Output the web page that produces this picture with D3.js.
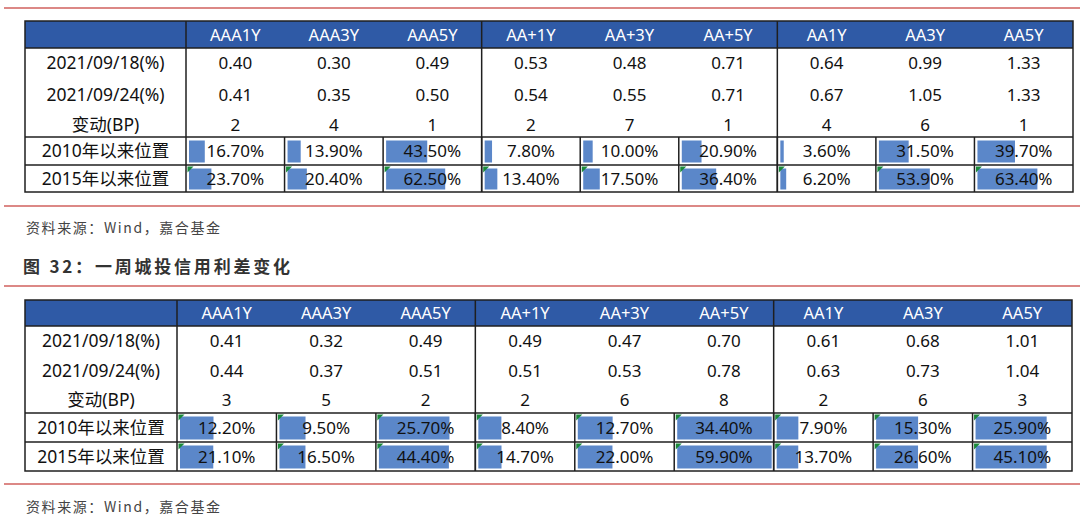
<!DOCTYPE html>
<html><head><meta charset="utf-8">
<script src="https://cdn.jsdelivr.net/npm/d3@7"></script>
<style>
html,body{margin:0;padding:0;background:#fff;}
svg{display:block;}
</style></head>
<body>
<svg id="chart" width="1080" height="519"></svg>
<script>
// ---------- DATA ----------
const columns = ["AAA1Y","AAA3Y","AAA5Y","AA+1Y","AA+3Y","AA+5Y","AA1Y","AA3Y","AA5Y"];
const rowLabels = ["2021/09/18(%)","2021/09/24(%)","变动(BP)","2010年以来位置","2015年以来位置"];

// Table 1 (上表)
const t1Spread0918 = [0.40,0.30,0.49,0.53,0.48,0.71,0.64,0.99,1.33];
const t1Spread0924 = [0.41,0.35,0.50,0.54,0.55,0.71,0.67,1.05,1.33];
const t1ChangeBP   = [2,4,1,2,7,1,4,6,1];
const t1Pos2010    = [16.70,13.90,43.50,7.80,10.00,20.90,3.60,31.50,39.70];
const t1Pos2015    = [23.70,20.40,62.50,13.40,17.50,36.40,6.20,53.90,63.40];

// Table 2 (图32：一周城投信用利差变化)
const t2Spread0918 = [0.41,0.32,0.49,0.49,0.47,0.70,0.61,0.68,1.01];
const t2Spread0924 = [0.44,0.37,0.51,0.51,0.53,0.78,0.63,0.73,1.04];
const t2ChangeBP   = [3,5,2,2,6,8,2,6,3];
const t2Pos2010    = [12.20,9.50,25.70,8.40,12.70,34.40,7.90,15.30,25.90];
const t2Pos2015    = [21.10,16.50,44.40,14.70,22.00,59.90,13.70,26.60,45.10];

const sourceText = "资料来源：Wind，嘉合基金";
const titleText = "图 32：一周城投信用利差变化";

// ---------- STYLE ----------
const FONT = "'Noto Sans','Noto Sans CJK SC',sans-serif";
const CJK = "'Noto Sans CJK SC','Noto Sans',sans-serif";
const HEADER_BLUE = "#2f5aa6";
const BAR_BLUE = "#5b87c9";
const LINE = "#1f1f1f";
const RED = "#d0605e";
const GREEN = "#1a8a3a";

const svg = d3.select("#chart");
const fmt2 = d3.format(".2f");
const fmtPct = v => d3.format(".2f")(v) + "%";

function drawTable(cfg) {
  const g = svg.append("g");
  const x = d3.scaleBand().domain(columns).range([cfg.labelRight, cfg.right]);
  const top = cfg.top, hb = cfg.headerBottom;
  const textRows = [cfg.spread0918, cfg.spread0924, cfg.change];
  const textFmt = [fmt2, fmt2, d3.format("d")];
  const rowCenters = cfg.textCenters;

  // header
  g.append("rect").attr("x", cfg.left).attr("y", top)
    .attr("width", cfg.right - cfg.left).attr("height", hb - top)
    .attr("fill", HEADER_BLUE);
  g.selectAll("text.hdr").data(columns).join("text")
    .attr("class","hdr")
    .attr("x", d => x(d) + x.bandwidth()/2)
    .attr("y", (top + hb)/2 + 6)
    .attr("text-anchor","middle").attr("fill","#fff")
    .attr("font-family", FONT).attr("font-size", 16.5)
    .text(d => d);

  // row labels
  const labelX = (cfg.left + cfg.labelRight)/2;
  const allCenters = rowCenters.concat(cfg.pctRows.map(r => (r[0]+r[1])/2));
  g.selectAll("text.lbl").data(rowLabels).join("text")
    .attr("class","lbl")
    .attr("x", labelX).attr("y", (d,i) => allCenters[i] + 6)
    .attr("text-anchor","middle").attr("fill","#111")
    .attr("font-family", FONT).attr("font-size", 17.5)
    .text(d => d);

  // text rows
  textRows.forEach((arr, ri) => {
    g.selectAll("text.v" + ri).data(arr).join("text")
      .attr("class","v" + ri)
      .attr("x", (d,i) => x(columns[i]) + x.bandwidth()/2)
      .attr("y", rowCenters[ri] + 6)
      .attr("text-anchor","middle").attr("fill","#111")
      .attr("font-family", FONT).attr("font-size", 17)
      .text(d => textFmt[ri](d));
  });

  // percentage rows with data bars
  const pctData = [cfg.pos2010, cfg.pos2015];
  pctData.forEach((arr, ri) => {
    const [y0, y1] = cfg.pctRows[ri];
    const dom = cfg.barDomain === "rowmax" ? [0, d3.max(arr)] : [0, 100];
    const w = d3.scaleLinear().domain(dom).range([0, x.bandwidth() - (cfg.barDomain === "rowmax" ? 5 : 4)]);
    g.selectAll("rect.b" + ri).data(arr).join("rect")
      .attr("class","b" + ri)
      .attr("x", (d,i) => x(columns[i]) + 3)
      .attr("y", y0 + 3.5).attr("height", y1 - y0 - 6)
      .attr("width", d => w(d))
      .attr("fill", BAR_BLUE);
    if (cfg.triangles[ri]) {
      g.selectAll("path.t" + ri).data(arr).join("path")
        .attr("class","t" + ri)
        .attr("d", (d,i) => {
          const cx = x(columns[i]) + 1.5, cy = y0 + 1.5;
          return `M${cx},${cy}L${cx+6},${cy}L${cx},${cy+6}Z`;
        })
        .attr("fill", GREEN);
    }
    g.selectAll("text.p" + ri).data(arr).join("text")
      .attr("class","p" + ri)
      .attr("x", (d,i) => x(columns[i]) + x.bandwidth()/2)
      .attr("y", (y0 + y1)/2 + 6)
      .attr("text-anchor","middle").attr("fill","#111")
      .attr("font-family", FONT).attr("font-size", 17)
      .text(d => fmtPct(d));
  });

  // lines
  const L = (x1,y1,x2,y2,w) => g.append("line").attr("x1",x1).attr("y1",y1).attr("x2",x2).attr("y2",y2)
      .attr("stroke", LINE).attr("stroke-width", w || 1.5);
  g.append("rect").attr("x", cfg.left).attr("y", top)
    .attr("width", cfg.right - cfg.left).attr("height", cfg.bottom - top)
    .attr("fill","none").attr("stroke", LINE).attr("stroke-width", 1.5);
  L(cfg.left, hb, cfg.right, hb);
  L(cfg.left, cfg.pctRows[0][0], cfg.right, cfg.pctRows[0][0]);
  L(cfg.left, cfg.pctRows[1][0], cfg.right, cfg.pctRows[1][0]);
  L(cfg.labelRight, top, cfg.labelRight, cfg.bottom);
  [3, 6].forEach(k => {
    const xx = x(columns[k]);
    L(xx, top, xx, cfg.bottom);
  });
  columns.forEach((c, i) => {
    if (i === 0) return;
    const xx = x(c);
    L(xx, cfg.pctRows[0][0], xx, cfg.bottom);
  });
}

function redLine(y) {
  svg.append("line").attr("x1", 4).attr("x2", 1080).attr("y1", y).attr("y2", y)
    .attr("stroke", RED).attr("stroke-width", 1.6);
}

// top section
redLine(8);
drawTable({
  left: 25, labelRight: 186, right: 1073,
  top: 21, headerBottom: 48, bottom: 192,
  textCenters: [63, 95, 125],
  pctRows: [[137,165],[165,192]],
  spread0918: t1Spread0918, spread0924: t1Spread0924, change: t1ChangeBP,
  pos2010: t1Pos2010, pos2015: t1Pos2015,
  barDomain: "fixed",
  triangles: [false, true]
});
redLine(206);
svg.append("text").attr("x", 26).attr("y", 233)
  .attr("font-family", CJK).attr("font-size", 14).attr("fill", "#444")
  .attr("textLength", 194).attr("lengthAdjust", "spacing")
  .text(sourceText);
svg.append("text").attr("x", 23).attr("y", 273)
  .attr("font-family", CJK).attr("font-size", 17).attr("font-weight", "bold").attr("fill", "#333")
  .attr("textLength", 267).attr("lengthAdjust", "spacing")
  .text(titleText);
redLine(286);

// bottom section
drawTable({
  left: 25, labelRight: 177, right: 1072,
  top: 300, headerBottom: 326, bottom: 471,
  textCenters: [341, 371, 400],
  pctRows: [[413,442],[442,471]],
  spread0918: t2Spread0918, spread0924: t2Spread0924, change: t2ChangeBP,
  pos2010: t2Pos2010, pos2015: t2Pos2015,
  barDomain: "rowmax",
  triangles: [true, true]
});
redLine(484);
svg.append("text").attr("x", 26).attr("y", 512)
  .attr("font-family", CJK).attr("font-size", 14).attr("fill", "#444")
  .attr("textLength", 194).attr("lengthAdjust", "spacing")
  .text(sourceText);
</script>
</body></html>
